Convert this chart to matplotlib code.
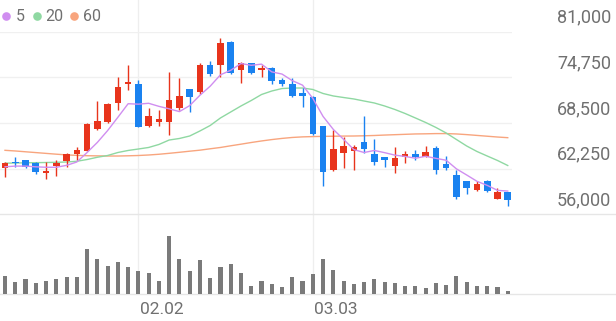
import numpy as np
import matplotlib
matplotlib.use('Agg')
import matplotlib.pyplot as plt
from matplotlib.transforms import blended_transform_factory, offset_copy

# ---------------- data ----------------
opens  = [62400, 63200, 63400, 63000, 61700, 62600, 63300, 64300, 64700, 67700,
          68700, 71200, 73800, 73900, 68100, 68700, 68700, 70600, 73100, 72700,
          76500, 76500, 79600, 75800, 76700, 75800, 76000, 74400, 73800, 72600,
          72100, 68100, 62000, 64400, 64700, 65900, 64300, 63800, 62600, 63800,
          64200, 63900, 65100, 62900, 61400, 60500, 59300, 60600, 58100, 59100]
highs  = [63100, 63900, 63500, 63100, 63200, 63400, 64400, 65200, 68500, 71500,
          71200, 74800, 76500, 74400, 70500, 70300, 75500, 74700, 73100, 76700,
          77000, 80100, 79700, 76900, 76700, 76500, 76100, 74600, 74600, 73300,
          72200, 68100, 67600, 66600, 65500, 69400, 66300, 63900, 65200, 64700,
          64800, 65300, 65300, 64000, 62100, 60500, 60600, 60700, 59600, 59100]
lows   = [61100, 62500, 62300, 61500, 60900, 61200, 62500, 63500, 64600, 67600,
          68500, 70300, 73000, 67900, 68000, 68100, 66900, 70300, 70000, 72500,
          74900, 74800, 75200, 74000, 75200, 74800, 73800, 73500, 72100, 70700,
          66900, 59900, 61900, 62300, 62100, 64400, 62800, 62500, 61700, 63000,
          63400, 63800, 61500, 62000, 58100, 58800, 59200, 59100, 58100, 57200]
closes = [63000, 63000, 62500, 61800, 61900, 63000, 64300, 64800, 68300, 68800,
          71100, 73400, 74100, 68000, 69400, 69000, 71700, 72200, 72100, 76500,
          75200, 79500, 75300, 76700, 75300, 76000, 74200, 73800, 72200, 72200,
          67000, 61800, 64900, 65400, 65200, 65000, 63200, 63400, 63700, 64300,
          63800, 64500, 62000, 62400, 58400, 59600, 60200, 59200, 59000, 57900]
prior_closes = [62500, 62500, 62300, 62200]   # closes before the first visible day (for MA5)

ma20 = [63000, 63020, 63050, 63070, 63090, 63120, 63160, 63260, 63500, 63810,
        64050, 64460, 64740, 64940, 65150, 65560, 66170, 66380, 66720, 67410,
        68160, 69190, 70010, 70830, 71580, 72400, 72880, 73220, 73290, 73290,
        73090, 72540, 72200, 71990, 71790, 71510, 71240, 70830, 70350, 69800,
        69190, 68570, 67890, 67130, 66240, 65350, 64600, 63980, 63370, 62680]
ma60 = [64760, 64670, 64560, 64450, 64340, 64230, 64130, 64070, 64020, 64000,
        63980, 63980, 64010, 64050, 64120, 64220, 64350, 64490, 64640, 64780,
        64970, 65150, 65380, 65600, 65830, 66040, 66230, 66390, 66520, 66600,
        66640, 66670, 66690, 66710, 66720, 66750, 66790, 66850, 66900, 66950,
        67000, 67020, 67050, 67050, 67000, 66910, 66800, 66690, 66580, 66490]

volume = [180, 123, 147, 113, 133, 147, 167, 167, 447, 347,
          280, 317, 273, 230, 207, 133, 583, 350, 230, 337,
          157, 273, 297, 207, 83, 130, 97, 73, 167, 130,
          200, 347, 240, 133, 100, 120, 153, 123, 107, 83,
          80, 60, 113, 90, 180, 120, 80, 83, 67, 33]

y_ticks = [81000, 74750, 68500, 62250, 56000]
x_tick_idx = [13, 30]
x_tick_labels = ['02.02', '03.03']
legend_labels = ['5', '20', '60']

# ---------------- style ----------------
RED = '#e8341c'
BLUE = '#1a82f0'
C5 = '#d08ef0'
C20 = '#8fd8a2'
C60 = '#f8a57e'
TXT = '#707070'
GRID = '#f0f0f0'
FONT = ['Roboto', 'DejaVu Sans']

W, H = 616, 321
fig = plt.figure(figsize=(W / 100, H / 100), dpi=100)
fig.patch.set_facecolor('white')


def frac(x0, ytop, x1, ybot):
    return [x0 / W, 1 - ybot / H, (x1 - x0) / W, (ybot - ytop) / H]


n = len(closes)
idx = np.arange(n)
step = 10.26
x_left_px = 5.0
plot_right = 512
xlim = (-x_left_px / step, (plot_right - x_left_px) / step)

# background axes for vertical grid lines (spans price + volume panels)
bg = fig.add_axes(frac(0, 0, plot_right, 294))
bg.set_xlim(*xlim)
bg.set_ylim(0, 1)
bg.axis('off')
for i in x_tick_idx:
    bg.axvline(i, color='#eeeeee', lw=0.9, zorder=0)
bg.set_zorder(0)

# overlay axes in pixel coordinates for full-width separators and legend
ov = fig.add_axes([0, 0, 1, 1])
ov.set_xlim(0, W)
ov.set_ylim(H, 0)
ov.axis('off')
ov.patch.set_alpha(0)
ov.set_zorder(1)

# price axes
ax = fig.add_axes(frac(0, 31.7, plot_right, 214.3))
ax.set_zorder(2)
ax.patch.set_alpha(0)
ax.set_xlim(*xlim)
ax.set_ylim(56000, 81000)
for s in ax.spines.values():
    s.set_visible(False)
ax.set_xticks([])
ax.set_yticks([])
for v in y_ticks[:-1]:
    ax.axhline(v, color=GRID, lw=1.0, zorder=0)

# full-width bottom line of the price panel and baseline of volume panel
ov.plot([0, W], [214.3, 214.3], color='#e6e6e6', lw=1.0)
ov.plot([0, W], [294, 294], color='#e6e6e6', lw=1.0)

o = np.array(opens, float)
c = np.array(closes, float)
h = np.array(highs, float)
l = np.array(lows, float)
up = c >= o
colors = np.where(up, RED, BLUE)

# wicks
ax.vlines(idx, l, h, colors=colors, lw=1.0, zorder=3)
# bodies
body_bottom = np.minimum(o, c)
body_h = np.maximum(np.abs(c - o), 160)
ax.bar(idx, body_h, bottom=body_bottom, width=0.64, color=colors, zorder=4, linewidth=0)

# moving averages
allc = np.concatenate([prior_closes, closes]).astype(float)
ma5 = np.convolve(allc, np.ones(5) / 5, mode='valid')
ax.plot(idx, ma60, color=C60, lw=1.0, zorder=2)
ax.plot(idx, ma20, color=C20, lw=1.0, zorder=2)
ax.plot(idx, ma5, color=C5, lw=1.0, zorder=5)

# volume axes
axv = fig.add_axes(frac(0, 222, plot_right, 294))
axv.set_zorder(2)
axv.patch.set_alpha(0)
axv.set_xlim(*xlim)
axv.set_ylim(0, 720)
axv.axis('off')
axv.bar(idx, volume, width=0.4, color='#7a7a7a', linewidth=0)

# y tick labels (right side, above each grid line)
ty = offset_copy(blended_transform_factory(fig.transFigure, ax.transData), fig=fig, x=0, y=14, units='dots')
for v in y_ticks:
    fig.text(611 / W, v, f'{v:,}', transform=ty, ha='right', va='center',
             fontsize=13, color=TXT, family=FONT)

# x tick labels (left aligned at grid line)
tx = offset_copy(blended_transform_factory(ax.transData, ov.transData), fig=fig, x=1.5, y=0, units='dots')
for i, lab in zip(x_tick_idx, x_tick_labels):
    fig.text(i, 309, lab, transform=tx, ha='left', va='center',
             fontsize=12.5, color=TXT, family=FONT)

# legend
leg_cols = [C5, C20, C60]
leg_dot_x = [5.7, 36.7, 74.0]
leg_txt_x = [15.5, 45.5, 83.0]
for col, dx, tx_, lab in zip(leg_cols, leg_dot_x, leg_txt_x, legend_labels):
    ov.plot([dx], [16], marker='o', markersize=6.2, color=col, markeredgewidth=0)
    ov.text(tx_, 16.5, lab, ha='left', va='center', fontsize=11.5, color=TXT, family=FONT)

fig.savefig('out.png', dpi=100, facecolor='white')
